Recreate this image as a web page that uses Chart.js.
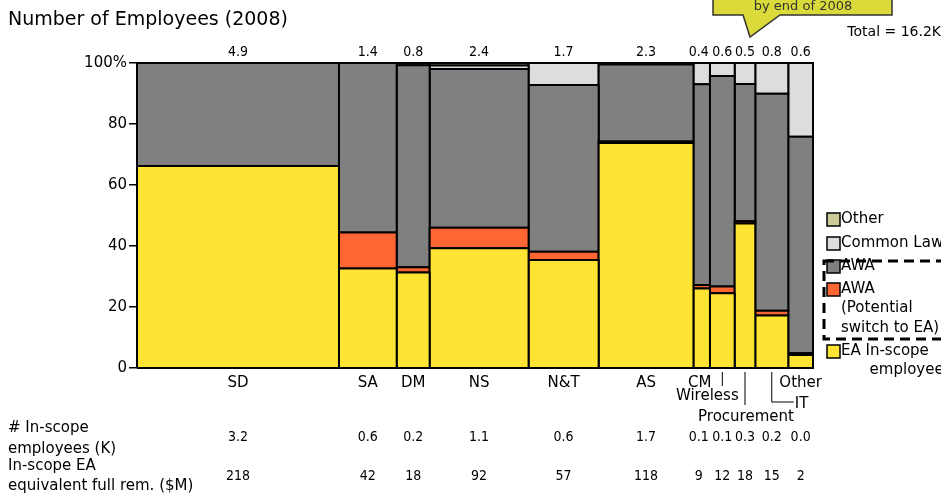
<!DOCTYPE html>
<html>
<head>
<meta charset="utf-8">
<script src="https://cdn.jsdelivr.net/npm/chart.js@4.4.0/dist/chart.umd.min.js"></script>
<style>
  html, body { margin: 0; padding: 0; background: #fff; }
  #wrap { width: 941px; height: 496px; position: relative; }
</style>
</head>
<body>
<div id="wrap"><canvas id="chart" width="941" height="496"></canvas></div>
<script>
// data
const categories = ["SD", "SA", "DM", "NS", "N&T", "AS", "CM", "Wireless", "Procurement", "IT", "Other"];
const headcountK = [4.9, 1.4, 0.8, 2.4, 1.7, 2.3, 0.4, 0.6, 0.5, 0.8, 0.6];
// shares in % of each unit, bottom to top
const eaInScope    = [66.2, 32.6, 31.3, 39.3, 35.4, 73.8, 26.1, 24.5, 47.4, 17.2, 4.3];
const awaPotential = [0, 11.8, 1.7, 6.7, 2.7, 0.5, 1.1, 2.2, 0.7, 1.6, 0.5];
const awa          = [33.8, 55.6, 66.3, 52.0, 54.7, 25.2, 65.8, 69.0, 45.0, 71.1, 71.0];
const commonLaw    = [0, 0, 0.7, 1.2, 7.2, 0.5, 7.0, 4.3, 6.9, 10.1, 24.2];
const otherType    = [0, 0, 0, 0.8, 0, 0, 0, 0, 0, 0, 0];
const inScopeK = ["3.2", "0.6", "0.2", "1.1", "0.6", "1.7", "0.1", "0.1", "0.3", "0.2", "0.0"];
const remM = ["218", "42", "18", "92", "57", "118", "9", "12", "18", "15", "2"];
const yTicks = [0, 20, 40, 60, 80, 100];

const FONT = "'DejaVu Sans', Verdana, sans-serif";
const NUMFONT = "'DejaVu Sans Condensed', 'Liberation Sans Narrow', 'DejaVu Sans', sans-serif";

const series = [
  { label: "EA In-scope employees", data: eaInScope, color: "#FFE433" },
  { label: "AWA (Potential switch to EA)", data: awaPotential, color: "#FF6633" },
  { label: "AWA", data: awa, color: "#808080" },
  { label: "Common Law", data: commonLaw, color: "#DDDDDD" },
  { label: "Other", data: otherType, color: "#CCCC99" },
];

const total = headcountK.reduce((a, b) => a + b, 0);
const starts = [];
let acc = 0;
headcountK.forEach((w) => { starts.push(acc); acc += w; });

// one closed rectangle per segment, drawn as a filled line shape
const datasets = [];
const base = categories.map(() => 0);
series.forEach((s) => {
  s.data.forEach((v, i) => {
    if (v <= 0) return;
    const x0 = starts[i], x1 = starts[i] + headcountK[i];
    const y0 = base[i], y1 = base[i] + v;
    base[i] = y1;
    datasets.push({
      label: s.label,
      data: [{ x: x0, y: y0 }, { x: x1, y: y0 }, { x: x1, y: y1 }, { x: x0, y: y1 }, { x: x0, y: y0 }],
      backgroundColor: s.color,
      borderColor: "#000",
      borderWidth: 2,
      borderJoinStyle: "miter",
      fill: "shape",
      pointRadius: 0,
      tension: 0,
      clip: false,
    });
  });
});

const textPlugin = {
  id: "texts",
  afterDraw(chart) {
    const ctx = chart.ctx;
    const xs = chart.scales.x;
    const area = chart.chartArea;
    const cx = (i) => xs.getPixelForValue(starts[i] + headcountK[i] / 2);
    // narrow CM column: its numbers sit a bit to the left
    const nx = (i) => cx(i) + (categories[i] === "CM" ? -3 : 0);
    ctx.save();
    ctx.fillStyle = "#000";
    ctx.textBaseline = "middle";

    // title
    ctx.font = "19px " + FONT;
    ctx.textAlign = "left";
    ctx.fillText("Number of Employees (2008)", 8, 20);

    // callout
    ctx.beginPath();
    ctx.moveTo(713, -5); ctx.lineTo(892, -5); ctx.lineTo(892, 15);
    ctx.lineTo(780, 15); ctx.lineTo(750, 37); ctx.lineTo(743, 15);
    ctx.lineTo(713, 15); ctx.closePath();
    ctx.fillStyle = "#DADA3A";
    ctx.fill();
    ctx.strokeStyle = "#333";
    ctx.lineWidth = 1.5;
    ctx.stroke();
    ctx.fillStyle = "#333";
    ctx.font = "13px " + FONT;
    ctx.textAlign = "center";
    ctx.fillText("by end of 2008", 803, 7);

    ctx.fillStyle = "#000";
    ctx.font = "14px " + FONT;
    ctx.textAlign = "right";
    ctx.fillText("Total = 16.2K", 941, 32);

    // headcount above each column
    ctx.font = "14px " + NUMFONT;
    ctx.textAlign = "center";
    headcountK.forEach((v, i) => ctx.fillText(v.toFixed(1), nx(i), 52));

    // category labels
    ctx.font = "15px " + FONT;
    const y0 = area.bottom + 15;
    ctx.strokeStyle = "#000";
    ctx.lineWidth = 1;
    categories.forEach((c, i) => {
      const x = cx(i);
      if (c === "Wireless") {
        ctx.beginPath(); ctx.moveTo(x, area.bottom + 4); ctx.lineTo(x, area.bottom + 18); ctx.stroke();
        ctx.fillText(c, x - 15, y0 + 13);
      } else if (c === "Procurement") {
        ctx.beginPath(); ctx.moveTo(x, area.bottom + 4); ctx.lineTo(x, area.bottom + 37); ctx.stroke();
        ctx.fillText(c, x + 1, y0 + 34);
      } else if (c === "IT") {
        ctx.beginPath(); ctx.moveTo(x, area.bottom + 4); ctx.lineTo(x, area.bottom + 34);
        ctx.lineTo(x + 22, area.bottom + 34); ctx.stroke();
        ctx.textAlign = "left";
        ctx.fillText(c, x + 23, y0 + 21);
        ctx.textAlign = "center";
      } else if (c === "CM") {
        ctx.fillText(c, x - 2, y0);
      } else {
        ctx.fillText(c, x, y0);
      }
    });

    // table rows
    ctx.font = "15px " + FONT;
    ctx.textAlign = "left";
    ctx.fillText("# In-scope", 8, 428);
    ctx.fillText("employees (K)", 8, 449);
    ctx.fillText("In-scope EA", 8, 466);
    ctx.fillText("equivalent full rem. ($M)", 8, 486);
    ctx.font = "14px " + NUMFONT;
    ctx.textAlign = "center";
    inScopeK.forEach((v, i) => ctx.fillText(v, nx(i), 437));
    remM.forEach((v, i) => ctx.fillText(v, nx(i), 476));

    // legend
    const lx = 827;
    const items = [
      { s: series[4], y: 219, lines: ["Other"] },
      { s: series[3], y: 243, lines: ["Common Law"] },
      { s: series[2], y: 266, lines: ["AWA"] },
      { s: series[1], y: 289, lines: ["AWA", "(Potential", "switch to EA)"] },
      { s: series[0], y: 351, lines: ["EA In-scope", "      employees"] },
    ];
    ctx.font = "15px " + FONT;
    ctx.textAlign = "left";
    items.forEach((it) => {
      ctx.fillStyle = it.s.color;
      ctx.fillRect(lx, it.y - 6, 13, 13);
      ctx.strokeStyle = "#000";
      ctx.lineWidth = 1.5;
      ctx.strokeRect(lx, it.y - 6, 13, 13);
      ctx.fillStyle = "#000";
      it.lines.forEach((t, k) => ctx.fillText(t, lx + 14, it.y + k * 19.5));
    });
    ctx.setLineDash([10, 6]);
    ctx.lineWidth = 3;
    ctx.strokeRect(824, 261, 140, 78);
    ctx.restore();
  },
};

new Chart(document.getElementById("chart"), {
  type: "line",
  data: { datasets },
  options: {
    responsive: false,
    animation: false,
    layout: { padding: { top: 63, right: 128, bottom: 128, left: 0 } },
    plugins: { legend: { display: false }, tooltip: { enabled: false } },
    scales: {
      x: { type: "linear", display: false, min: 0, max: total },
      y: {
        min: 0,
        max: 100,
        afterFit: (scale) => { scale.width = 137; },
        afterBuildTicks: (scale) => { scale.ticks = yTicks.map((v) => ({ value: v })); },
        ticks: {
          color: "#000",
          padding: 2,
          font: { family: FONT, size: 15 },
          callback: (v) => (v === 100 ? "100%" : v),
        },
        grid: { drawOnChartArea: false, tickLength: 8, color: "#000", lineWidth: 1.5 },
        border: { display: true, color: "#000", width: 2 },
      },
    },
  },
  plugins: [textPlugin],
});
</script>
</body>
</html>
